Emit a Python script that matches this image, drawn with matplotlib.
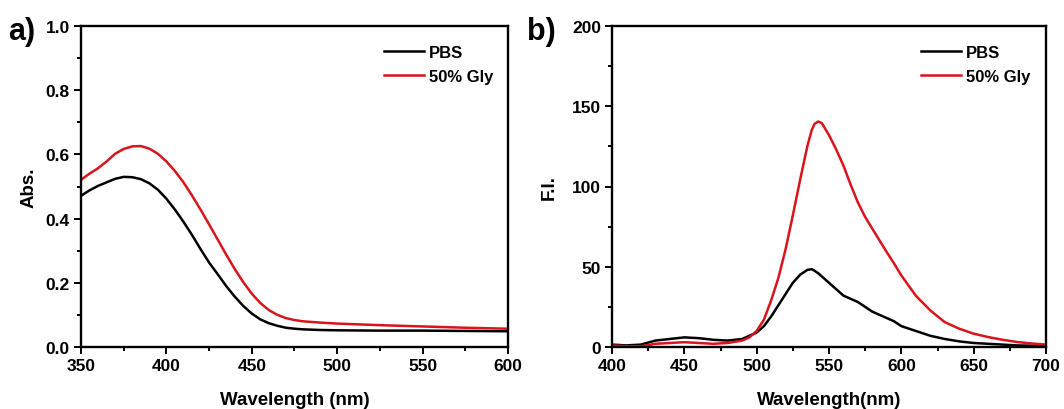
import numpy as np
import matplotlib
matplotlib.use("Agg")
import matplotlib.pyplot as plt
from matplotlib.ticker import MultipleLocator

plt.rcParams['font.family'] = ['Liberation Sans', 'DejaVu Sans']
plt.rcParams['font.weight'] = 'bold'

# Panel a: absorbance
abs_wl = [350, 355, 360, 365, 370, 375, 380, 385, 390, 395, 400, 405, 410, 415, 420, 425, 430, 435, 440, 445, 450, 455, 460, 465, 470, 475, 480, 490, 500, 525, 550, 575, 600]
abs_pbs = [0.471, 0.488, 0.502, 0.513, 0.524, 0.530, 0.529, 0.523, 0.510, 0.490, 0.462, 0.428, 0.390, 0.349, 0.305, 0.263, 0.227, 0.190, 0.157, 0.128, 0.104, 0.086, 0.074, 0.066, 0.060, 0.057, 0.055, 0.053, 0.052, 0.051, 0.051, 0.050, 0.049]
abs_gly = [0.521, 0.540, 0.557, 0.578, 0.602, 0.617, 0.625, 0.626, 0.618, 0.602, 0.578, 0.548, 0.513, 0.472, 0.428, 0.382, 0.335, 0.288, 0.243, 0.202, 0.166, 0.137, 0.115, 0.100, 0.090, 0.084, 0.080, 0.076, 0.073, 0.068, 0.064, 0.060, 0.057]

# Panel b: fluorescence
fl_wl = [400, 410, 420, 430, 440, 450, 460, 470, 480, 490, 495, 500, 505, 510, 515, 520, 525, 530, 535, 538, 540, 542.5, 545, 550, 555, 560, 565, 570, 575, 580, 590, 595, 600, 610, 620, 630, 640, 650, 660, 670, 680, 690, 700]
fl_pbs = [1.5, 1.0, 1.5, 4.0, 5.0, 6.0, 5.5, 4.5, 4.0, 5.0, 7.0, 9.0, 13.0, 19.0, 26.0, 33.0, 40.0, 45.0, 48.0, 48.5, 47.5, 46.0, 44.0, 40.0, 36.0, 32.0, 30.0, 28.0, 25.0, 22.0, 18.0, 16.0, 13.0, 10.0, 7.0, 5.0, 3.5, 2.5, 2.0, 1.5, 1.0, 0.8, 0.5]
fl_gly = [1.0, 0.5, 0.5, 2.0, 2.5, 3.0, 2.5, 2.0, 2.5, 4.0, 6.0, 10.0, 17.0, 29.0, 43.0, 61.0, 82.0, 104.0, 125.0, 135.0, 139.0, 140.5, 139.5, 132.0, 123.0, 113.0, 101.0, 90.0, 81.0, 73.6, 59.0, 52.0, 44.6, 32.0, 22.8, 15.5, 11.4, 8.3, 6.2, 4.5, 3.1, 2.2, 1.5]

labels = ['PBS', '50% Gly']
colors = ['#000000', '#d9141c']

fig = plt.figure(figsize=(10.64, 4.10), dpi=100)
W, H = 1064, 410
axa = fig.add_axes([81 / W, 1 - 348 / H, (508 - 81) / W, (348 - 27) / H])
axb = fig.add_axes([612 / W, 1 - 348 / H, (1046 - 612) / W, (348 - 27) / H])

def style(ax):
    for s in ax.spines.values():
        s.set_linewidth(1.7)
    ax.tick_params(which='both', direction='out', top=False, right=False, labelsize=12.5, width=1.4, pad=3)
    ax.tick_params(which='major', length=5)
    ax.tick_params(which='minor', length=3)
    for lab in ax.get_xticklabels() + ax.get_yticklabels():
        lab.set_fontweight('bold')

leg_kw = dict(loc='upper right', frameon=False, prop={'weight': 'bold', 'size': 12},
              handlelength=2.4, handletextpad=0.3, borderaxespad=1.0, labelspacing=0.55)

axa.plot(abs_wl, abs_pbs, color=colors[0], lw=1.8, label=labels[0])
axa.plot(abs_wl, abs_gly, color=colors[1], lw=1.8, label=labels[1])
axa.set_xlim(350, 600)
axa.set_ylim(0, 1.0)
axa.xaxis.set_major_locator(MultipleLocator(50))
axa.xaxis.set_minor_locator(MultipleLocator(25))
axa.yaxis.set_major_locator(MultipleLocator(0.2))
axa.yaxis.set_minor_locator(MultipleLocator(0.1))
axa.set_xlabel('Wavelength (nm)', fontsize=13.5, fontweight='bold', labelpad=13)
axa.set_ylabel('Abs.', fontsize=13.5, fontweight='bold', labelpad=6)
style(axa)
axa.legend(bbox_to_anchor=(1.02, 1.014), **leg_kw)

axb.plot(fl_wl, fl_pbs, color=colors[0], lw=1.8, label=labels[0])
axb.plot(fl_wl, fl_gly, color=colors[1], lw=1.8, label=labels[1])
axb.set_xlim(400, 700)
axb.set_ylim(0, 200)
axb.xaxis.set_major_locator(MultipleLocator(50))
axb.xaxis.set_minor_locator(MultipleLocator(25))
axb.yaxis.set_major_locator(MultipleLocator(50))
axb.yaxis.set_minor_locator(MultipleLocator(25))
axb.set_xlabel('Wavelength(nm)', fontsize=13.5, fontweight='bold', labelpad=13)
axb.set_ylabel('F.I.', fontsize=13.5, fontweight='bold', labelpad=10)
style(axb)
axb.legend(bbox_to_anchor=(1.018, 1.014), **leg_kw)

fig.text(8 / W, 1 - 32 / H, 'a)', fontsize=22, fontweight='bold', va='center', ha='left')
fig.text(527 / W, 1 - 32 / H, 'b)', fontsize=22, fontweight='bold', va='center', ha='left')

fig.savefig('out.png', dpi=100)
